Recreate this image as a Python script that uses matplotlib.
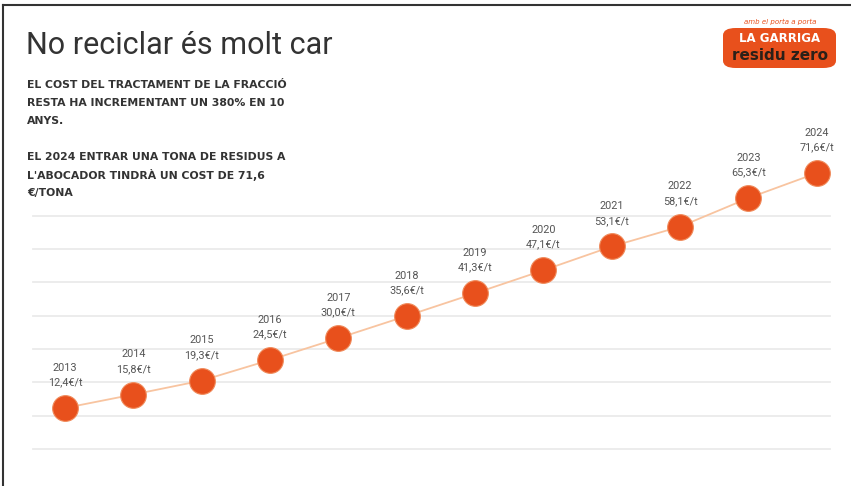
import numpy as np
import matplotlib.pyplot as plt
from matplotlib.patches import FancyBboxPatch
from matplotlib.lines import Line2D

years = [2013, 2014, 2015, 2016, 2017, 2018, 2019, 2020, 2021, 2022, 2023, 2024]
cost = [12.4, 15.8, 19.3, 24.5, 30.0, 35.6, 41.3, 47.1, 53.1, 58.1, 65.3, 71.6]
cost_labels = ['12,4€/t', '15,8€/t', '19,3€/t', '24,5€/t', '30,0€/t', '35,6€/t',
               '41,3€/t', '47,1€/t', '53,1€/t', '58,1€/t', '65,3€/t', '71,6€/t']
grid_vals = [2.1, 10.5, 18.9, 27.3, 35.7, 44.1, 52.5, 60.9]

title = 'No reciclar és molt car'
para1 = ['EL COST DEL TRACTAMENT DE LA FRACCIÓ',
         'RESTA HA INCREMENTANT UN 380% EN 10',
         'ANYS.']
para2 = ['EL 2024 ENTRAR UNA TONA DE RESIDUS A',
         "L'ABOCADOR TINDRÀ UN COST DE 71,6",
         '€/TONA']

orange = '#E8501C'
W, H = 851, 486
fig = plt.figure(figsize=(W / 100, H / 100), dpi=100)
fig.patch.set_facecolor('white')

# axes over the whole figure, limits chosen so that the chart sits in place
ax = fig.add_axes([0, 0, 1, 1])
ax.set_xlim(2012.05, 2024.5)
ax.set_ylim(-7.25, 115.2)
ax.axis('off')

for g in grid_vals:
    ax.plot([2012.53, 2024.2], [g, g], color='#ebebeb', lw=1.3, zorder=1)

ax.plot(years, cost, color='#F8C4A0', lw=1.3, zorder=2)
ax.plot(years, cost, 'o', ms=18.5, color=orange, mec='#F08A5A', mew=0.8,
        zorder=3, clip_on=False)

for x, y, lab in zip(years, cost, cost_labels):
    ax.annotate(str(x), (x, y), xytext=(0, 29), textcoords='offset points',
                ha='center', va='center', fontsize=7.8, color='#555555',
                family='Roboto')
    ax.annotate(lab, (x, y), xytext=(0, 18.5), textcoords='offset points',
                ha='center', va='center', fontsize=7.8, color='#555555',
                family='Roboto')

# title and notes
fig.text(26 / W, 1 - 45 / H, title, fontsize=22, color='#333333',
         family='Roboto', va='center', ha='left')
for i, line in enumerate(para1):
    fig.text(27 / W, 1 - (85 + 18 * i) / H, line, fontsize=7.8,
             fontweight='bold', color='#333333', family='DejaVu Sans',
             va='center')
for i, line in enumerate(para2):
    fig.text(27 / W, 1 - (157 + 18 * i) / H, line, fontsize=7.8,
             fontweight='bold', color='#333333', family='DejaVu Sans',
             va='center')

# logo
logo = FancyBboxPatch((723 / W, 1 - 68 / H), 113 / W, 40 / H,
                      boxstyle='round,pad=0,rounding_size=0.015',
                      transform=fig.transFigure, facecolor=orange,
                      edgecolor='none')
fig.patches.append(logo)
fig.text(780 / W, 1 - 22 / H, 'amb el porta a porta', fontsize=5,
         color=orange, style='italic', ha='center', va='center')
fig.text(780 / W, 1 - 38 / H, 'LA GARRIGA', fontsize=8.5, color='white',
         fontweight='bold', ha='center', va='center', family='DejaVu Sans')
fig.text(780 / W, 1 - 56 / H, 'residu zero', fontsize=11, color='#2b2018',
         fontweight='bold', ha='center', va='center', family='DejaVu Sans')

# frame lines (left and top)
fig.lines.append(Line2D([3 / W, 3 / W], [0, 1 - 5 / H], color='#333333',
                        lw=1.5, transform=fig.transFigure))
fig.lines.append(Line2D([3 / W, 1], [1 - 5 / H, 1 - 5 / H], color='#333333',
                        lw=1.5, transform=fig.transFigure))

fig.savefig('out.png', dpi=100)
